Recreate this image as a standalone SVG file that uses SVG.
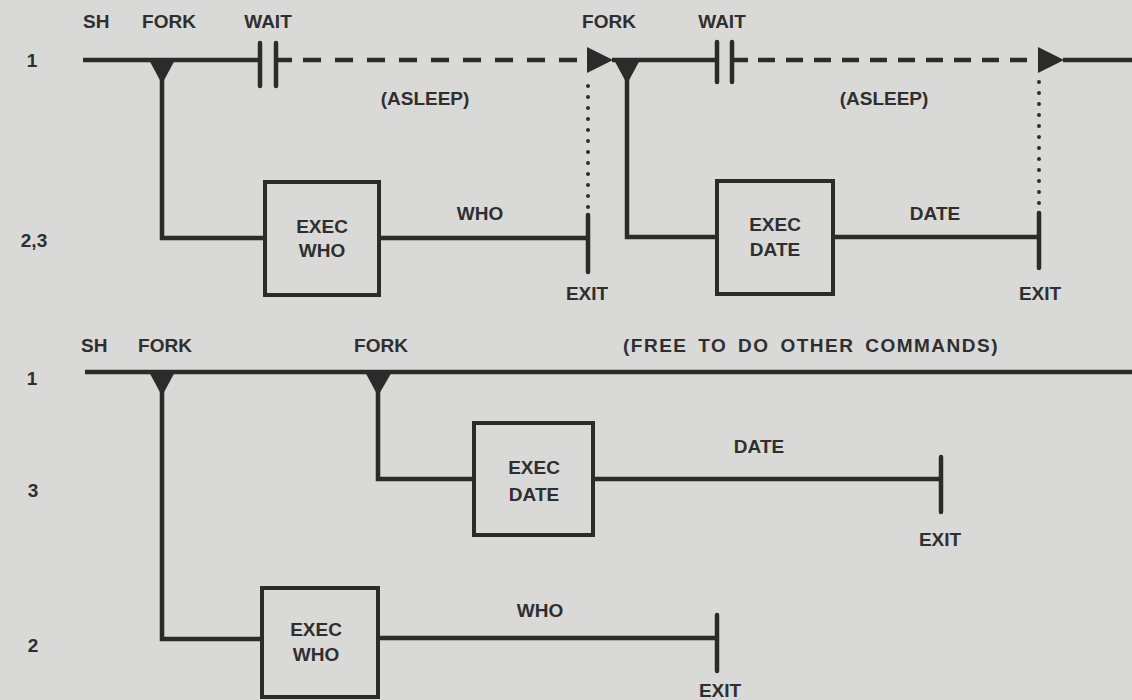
<svg xmlns="http://www.w3.org/2000/svg" width="1132" height="700" viewBox="0 0 1132 700">
<style>
.t{font-family:"Liberation Sans",Arial,sans-serif;font-weight:bold;font-size:19px;fill:#2f2f2f}
.m{text-anchor:middle}
.ln{stroke:#2b2b2b;stroke-width:4.5;fill:none;stroke-linecap:butt}
.bar{stroke:#2b2b2b;stroke-width:4.5;fill:none;stroke-linecap:round}
.dash{stroke:#2b2b2b;stroke-width:4.5;fill:none}
.dot{stroke:#2b2b2b;stroke-width:4;fill:none;stroke-linecap:round;stroke-dasharray:0 11}
.box{fill:none;stroke:#2b2b2b;stroke-width:4}
.tri{fill:#2b2b2b}
</style>
<rect width="1132" height="700" fill="#d9d9d7"/>

<g id="row-labels">
<text class="t m" x="32" y="67">1</text>
<text class="t m" x="34" y="247">2,3</text>
<text class="t m" x="32" y="385">1</text>
<text class="t m" x="33" y="497">3</text>
<text class="t m" x="33" y="652">2</text>
</g>

<g id="top-headers">
<text class="t" x="83" y="28">SH</text>
<text class="t m" x="169" y="28">FORK</text>
<text class="t m" x="268" y="28">WAIT</text>
<text class="t m" x="609" y="28">FORK</text>
<text class="t m" x="722" y="28">WAIT</text>
<text class="t m" x="425" y="105">(ASLEEP)</text>
<text class="t m" x="884" y="105">(ASLEEP)</text>
</g>

<g id="connectors">
<path class="ln" d="M83,60 H260"/>
<path class="bar" d="M260,43 V86 M276,43 V86"/>
<path class="ln" d="M276,60 H292"/>
<path class="dash" d="M303,60 H587" stroke-dasharray="18 14"/>
<path class="ln" d="M612,60 H717"/>
<path class="bar" d="M717,42 V82 M732,42 V82"/>
<path class="ln" d="M732,60 H748"/>
<path class="dash" d="M758,60 H1038" stroke-dasharray="17 11"/>
<path class="ln" d="M1063,60 H1132"/>
<polygon class="tri" points="587,47 587,73 613,60"/>
<polygon class="tri" points="1038,47 1038,73 1064,60"/>
<polygon class="tri" points="148,58 176,58 162,84"/>
<polygon class="tri" points="613,58 641,58 627,84"/>
<path class="dot" d="M588,86 V208"/>
<path class="dot" d="M1039,82 V210"/>
<path class="ln" d="M162,60 V238 H265"/>
<path class="ln" d="M379,238 H588"/>
<path class="bar" d="M588,215 V272"/>
<path class="ln" d="M627,60 V237 H717"/>
<path class="ln" d="M833,237 H1039"/>
<path class="bar" d="M1039,213 V268"/>

<path class="ln" d="M85,372 H1132"/>
<polygon class="tri" points="148,370 176,370 162,396"/>
<polygon class="tri" points="364,370 393,370 378,396"/>
<path class="ln" d="M378,372 V479 H474"/>
<path class="ln" d="M593,479 H941"/>
<path class="bar" d="M941,457 V512"/>
<path class="ln" d="M162,372 V639 H262"/>
<path class="ln" d="M378,638 H717"/>
<path class="bar" d="M717,615 V671"/>
</g>

<g id="top-box-who">
<rect class="box" x="265" y="182" width="114" height="113"/>
<text class="t m" x="322" y="233">EXEC</text>
<text class="t m" x="322" y="257">WHO</text>
</g>
<g id="top-label-who"><text class="t m" x="480" y="220">WHO</text></g>
<g id="top-exit-1"><text class="t m" x="587" y="300">EXIT</text></g>

<g id="top-box-date">
<rect class="box" x="717" y="181" width="116" height="113"/>
<text class="t m" x="775" y="231">EXEC</text>
<text class="t m" x="775" y="256">DATE</text>
</g>
<g id="top-label-date"><text class="t m" x="935" y="220">DATE</text></g>
<g id="top-exit-2"><text class="t m" x="1040" y="300">EXIT</text></g>

<g id="bottom-headers">
<text class="t" x="81" y="352">SH</text>
<text class="t m" x="165" y="352">FORK</text>
<text class="t m" x="381" y="352">FORK</text>
<text class="t" x="623" y="352" letter-spacing="1.5" word-spacing="4">(FREE TO DO OTHER COMMANDS)</text>
</g>

<g id="bottom-box-date">
<rect class="box" x="474" y="423" width="119" height="112"/>
<text class="t m" x="534" y="474">EXEC</text>
<text class="t m" x="534" y="501">DATE</text>
</g>
<g id="bottom-label-date"><text class="t m" x="759" y="453">DATE</text></g>
<g id="bottom-exit-date"><text class="t m" x="940" y="546">EXIT</text></g>

<g id="bottom-box-who">
<rect class="box" x="262" y="588" width="116" height="109"/>
<text class="t m" x="316" y="636">EXEC</text>
<text class="t m" x="316" y="661">WHO</text>
</g>
<g id="bottom-label-who"><text class="t m" x="540" y="617">WHO</text></g>
<g id="bottom-exit-who"><text class="t m" x="720" y="697">EXIT</text></g>
</svg>
